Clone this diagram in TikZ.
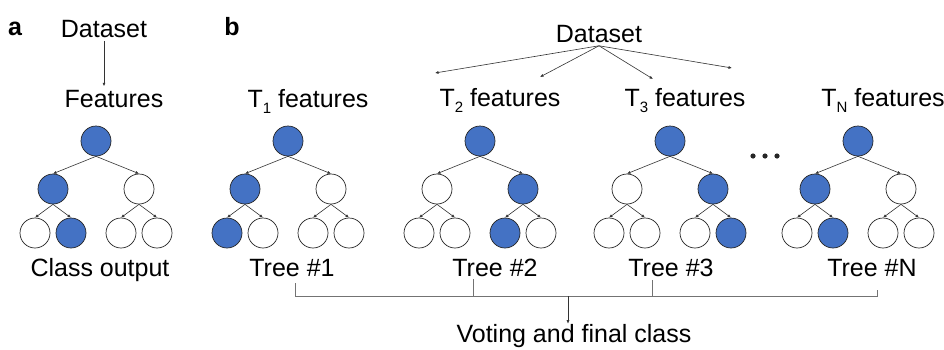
\documentclass[tikz,border=0pt]{standalone}
\usepackage{fontspec}
\setmainfont{Liberation Sans}
\usetikzlibrary{arrows.meta}
\definecolor{leafblue}{HTML}{4472C4}
\newcommand{\tsub}[1]{\raisebox{-6pt}{\fontsize{15}{15}\selectfont #1}}
\begin{document}
\begin{tikzpicture}[x=1pt, y=-1pt, font=\fontsize{25}{30}\selectfont,
  knot/.style={circle, draw=black!85, line width=0.7pt, minimum size=30pt, inner sep=0pt},
  link/.style={draw=black!80, line width=0.6pt, -{Latex[length=3.5pt,width=3pt]}},
  bar/.style={draw=black!55, line width=0.8pt}]
  \useasboundingbox (0,0) rectangle (944,349);

  % panel letters
  \node[font=\fontsize{25}{30}\selectfont\bfseries, anchor=base] (pa) at (15,35) {a};
  \node[font=\fontsize{25}{30}\selectfont\bfseries, anchor=base] (pb) at (232,35) {b};

  % panel a
  \node[anchor=base] (da) at (104,37) {Dataset};
  \node[anchor=base] (fa) at (114,107) {Features};
  \node[anchor=base] (ca) at (100,276) {Class output};
  \draw[link] (da.south) -- (da.south |- fa.north);

  % trees
  \foreach \t/\x/\c/\d/\e/\f/\g/\h in {
    a/96/leafblue/white/white/leafblue/white/white,
    t1/288/leafblue/white/leafblue/white/white/white,
    t2/480/white/leafblue/white/white/leafblue/white,
    t3/670/white/leafblue/white/white/white/leafblue,
    tn/858/leafblue/white/white/leafblue/white/white}{
    \node[knot, fill=leafblue] (\t-r) at (\x,141) {};
    \node[knot, fill=\c] (\t-l) at (\x-43,189) {};
    \node[knot, fill=\d] (\t-k) at (\x+43,189) {};
    \node[knot, fill=\e] (\t-ll) at (\x-61,233) {};
    \node[knot, fill=\f] (\t-lr) at (\x-25,233) {};
    \node[knot, fill=\g] (\t-kl) at (\x+25,233) {};
    \node[knot, fill=\h] (\t-kr) at (\x+61,233) {};
    \draw[link] (\t-r.south) -- (\t-l.north);
    \draw[link] (\t-r.south) -- (\t-k.north);
    \draw[link] (\t-l.south) -- (\t-ll.north);
    \draw[link] (\t-l.south) -- (\t-lr.north);
    \draw[link] (\t-k.south) -- (\t-kl.north);
    \draw[link] (\t-k.south) -- (\t-kr.north);
  }

  % panel b
  \node[anchor=base] (db) at (599,42) {Dataset};
  \coordinate (d1) at (435,73);
  \coordinate (d2) at (540,77);
  \coordinate (d3) at (653,79);
  \coordinate (d4) at (732,68);
  \foreach \i in {1,...,4}
    \draw[link] (db.south) -- (d\i);

  \node[anchor=base] (f1) at (308,107) {T\tsub{1} features};
  \node[anchor=base] (f2) at (500,106) {T\tsub{2} features};
  \node[anchor=base] (f3) at (685,106) {T\tsub{3} features};
  \node[anchor=base] (fn) at (883,106) {T\tsub{N} features};

  \foreach \p in {753,765,777}
    \fill[black!85] (\p,156) circle (2.6pt);

  \node[anchor=base] (l1) at (292,276) {Tree \#1};
  \node[anchor=base] (l2) at (495,276) {Tree \#2};
  \node[anchor=base] (l3) at (671,276) {Tree \#3};
  \node[anchor=base] (ln) at (872,276) {Tree \#N};
  \node[anchor=base, inner sep=0pt] (vote) at (574,342) {Voting and final class};

  % voting bracket
  \coordinate (k1) at (295,283);
  \coordinate (k2) at (473,279);
  \coordinate (k3) at (652,280);
  \coordinate (k4) at (877,290);
  \coordinate (bar) at (568,296);
  \draw[bar] (k1) |- (k4 |- bar) -- (k4);
  \draw[bar] (k2) -- (k2 |- bar);
  \draw[bar] (k3) -- (k3 |- bar);
  \draw[link] (bar) -- (bar |- vote.north);
\end{tikzpicture}
\end{document}
